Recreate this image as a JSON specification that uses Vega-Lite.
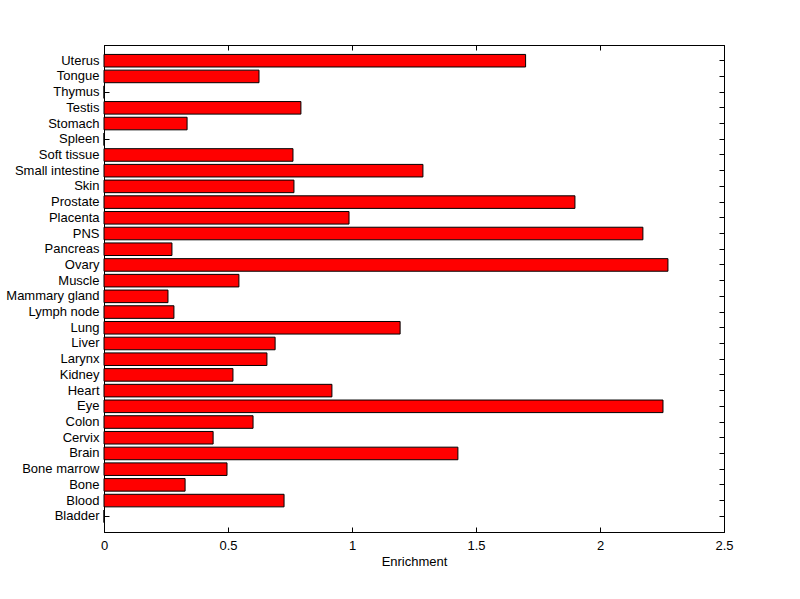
{
  "$schema": "https://vega.github.io/schema/vega-lite/v6.json",
  "width": 620,
  "height": 487,
  "autosize": {"type": "none"},
  "padding": {"left": 104, "top": 45, "right": 76, "bottom": 67},
  "background": "white",
  "config": {
    "view": {"stroke": "black", "strokeWidth": 1},
    "axis": {
      "labelFont": "Liberation Sans",
      "labelFontSize": 13,
      "labelColor": "black",
      "domainColor": "black",
      "tickColor": "black",
      "grid": false,
      "labelFlush": false,
      "titleFont": "Liberation Sans",
      "titleFontSize": 13,
      "titleFontWeight": "normal",
      "titleColor": "black"
    }
  },
  "data": {
    "values": [
      {"tissue": "Uterus", "enrichment": 1.70},
      {"tissue": "Tongue", "enrichment": 0.625},
      {"tissue": "Thymus", "enrichment": 0},
      {"tissue": "Testis", "enrichment": 0.794},
      {"tissue": "Stomach", "enrichment": 0.335},
      {"tissue": "Spleen", "enrichment": 0},
      {"tissue": "Soft tissue", "enrichment": 0.762},
      {"tissue": "Small intestine", "enrichment": 1.286},
      {"tissue": "Skin", "enrichment": 0.766},
      {"tissue": "Prostate", "enrichment": 1.899},
      {"tissue": "Placenta", "enrichment": 0.988},
      {"tissue": "PNS", "enrichment": 2.173},
      {"tissue": "Pancreas", "enrichment": 0.274},
      {"tissue": "Ovary", "enrichment": 2.274},
      {"tissue": "Muscle", "enrichment": 0.544},
      {"tissue": "Mammary gland", "enrichment": 0.258},
      {"tissue": "Lymph node", "enrichment": 0.282},
      {"tissue": "Lung", "enrichment": 1.194},
      {"tissue": "Liver", "enrichment": 0.69},
      {"tissue": "Larynx", "enrichment": 0.657},
      {"tissue": "Kidney", "enrichment": 0.52},
      {"tissue": "Heart", "enrichment": 0.919},
      {"tissue": "Eye", "enrichment": 2.254},
      {"tissue": "Colon", "enrichment": 0.601},
      {"tissue": "Cervix", "enrichment": 0.44},
      {"tissue": "Brain", "enrichment": 1.427},
      {"tissue": "Bone marrow", "enrichment": 0.496},
      {"tissue": "Bone", "enrichment": 0.327},
      {"tissue": "Blood", "enrichment": 0.726},
      {"tissue": "Bladder", "enrichment": 0}
    ]
  },
  "layer": [
    {
      "mark": {"type": "bar", "color": "#ff0000", "stroke": "black", "strokeWidth": 1},
      "encoding": {
        "x": {
          "field": "enrichment", "type": "quantitative",
          "scale": {"domain": [0, 2.5], "nice": false, "zero": true},
          "axis": {"orient": "bottom", "values": [0, 0.5, 1, 1.5, 2, 2.5], "format": "~g", "tickSize": -5, "labelPadding": 12, "title": "Enrichment", "titlePadding": 3}
        },
        "y": {
          "field": "tissue", "type": "nominal",
          "sort": ["Uterus","Tongue","Thymus","Testis","Stomach","Spleen","Soft tissue","Small intestine","Skin","Prostate","Placenta","PNS","Pancreas","Ovary","Muscle","Mammary gland","Lymph node","Lung","Liver","Larynx","Kidney","Heart","Eye","Colon","Cervix","Brain","Bone marrow","Bone","Blood","Bladder"],
          "scale": {"paddingInner": 0.2, "paddingOuter": 0.6},
          "axis": {"orient": "left", "tickSize": -5, "labelPadding": 10, "title": null}
        }
      }
    },
    {
      "mark": {"type": "bar", "opacity": 0},
      "encoding": {
        "x": {
          "field": "enrichment", "type": "quantitative",
          "scale": {"domain": [0, 2.5], "nice": false, "zero": true},
          "axis": {"orient": "top", "values": [0, 0.5, 1, 1.5, 2, 2.5], "tickSize": -5, "labels": false, "title": null}
        },
        "y": {
          "field": "tissue", "type": "nominal",
          "sort": ["Uterus","Tongue","Thymus","Testis","Stomach","Spleen","Soft tissue","Small intestine","Skin","Prostate","Placenta","PNS","Pancreas","Ovary","Muscle","Mammary gland","Lymph node","Lung","Liver","Larynx","Kidney","Heart","Eye","Colon","Cervix","Brain","Bone marrow","Bone","Blood","Bladder"],
          "scale": {"paddingInner": 0.2, "paddingOuter": 0.6},
          "axis": {"orient": "right", "tickSize": -5, "labels": false, "title": null}
        }
      }
    }
  ],
  "resolve": {"axis": {"x": "independent", "y": "independent"}}
}
